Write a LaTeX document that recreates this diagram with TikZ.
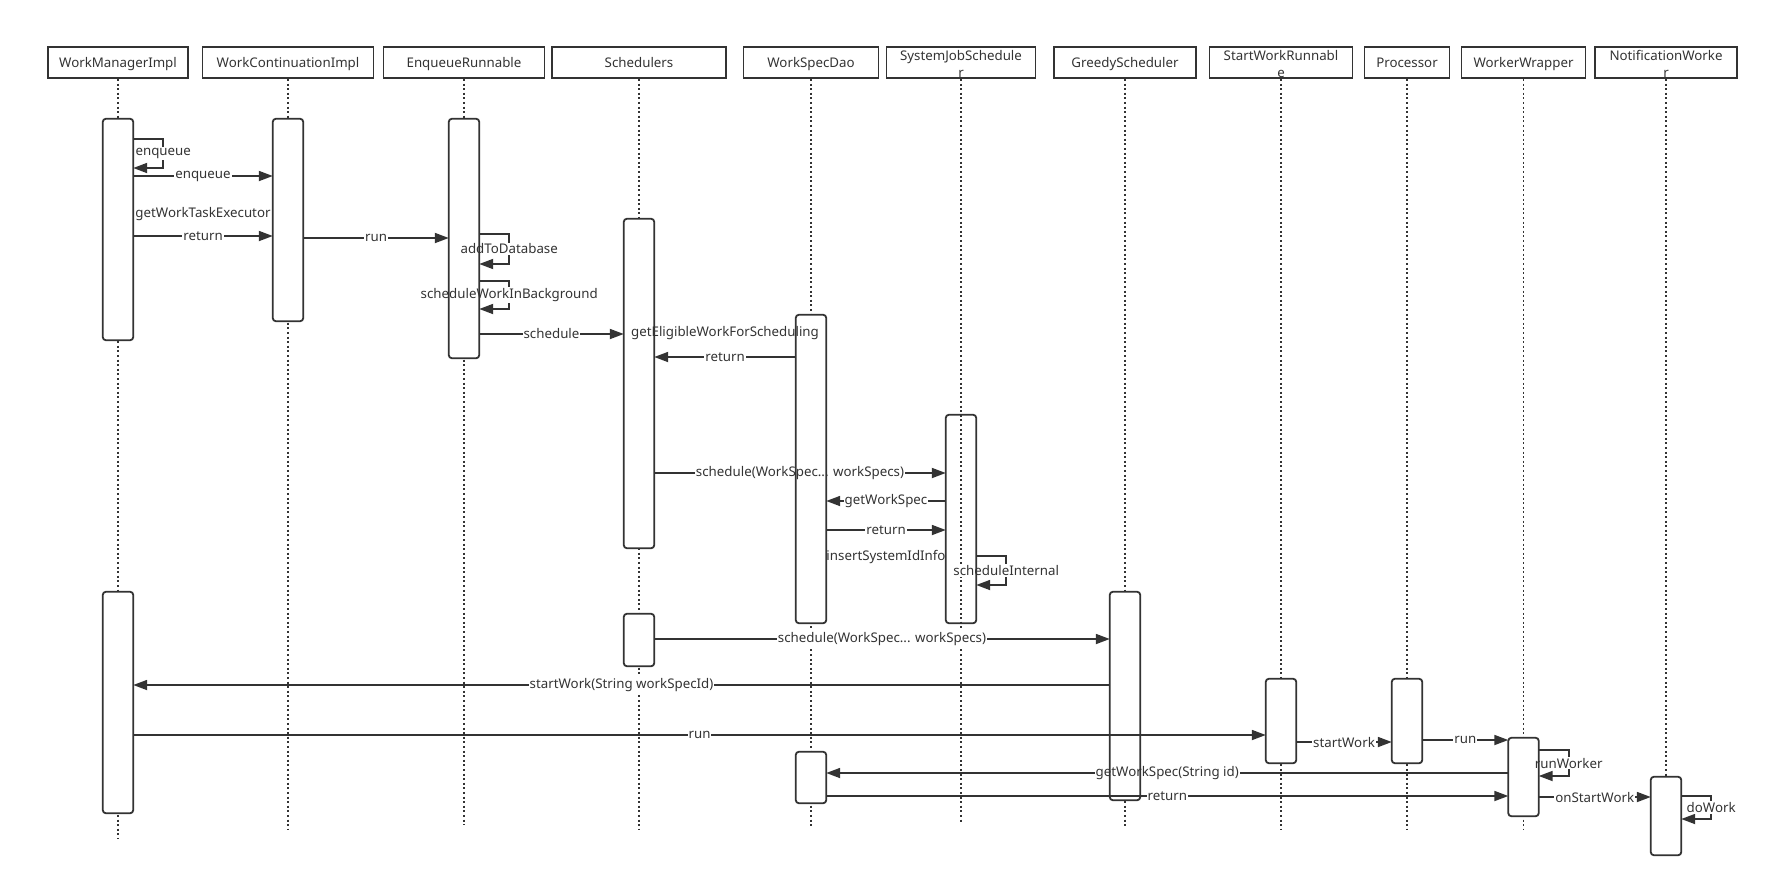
\documentclass[tikz,border=0pt]{standalone}
\usepackage{fontspec}
\setmainfont{Noto Sans}
\usetikzlibrary{arrows.meta}
\definecolor{ink}{HTML}{333333}
\begin{document}
\begin{tikzpicture}[x=1pt,y=-1pt,
  hdr/.style={draw=ink, line width=1.8pt, minimum height=31pt, inner sep=0pt,
    font=\fontsize{13.3}{16.5}\selectfont, text=ink, align=center, text height=13pt, text depth=3pt},
  hdrtwo/.style={draw=ink, line width=1.8pt, minimum height=31pt, inner sep=0pt,
    font=\fontsize{13.3}{16.5}\selectfont, text=ink, align=center, text height=29.5pt},
  act/.style={fill=white, draw=none, minimum width=30pt, inner sep=0pt, rounded corners=3pt},
  actb/.style={draw=ink, line width=1.8pt, rounded corners=3pt},
  life/.style={draw=ink, line width=1.8pt, dash pattern=on 2pt off 2.6pt},
  msg/.style={draw=ink, line width=1.8pt, -{Triangle[length=14pt,width=10pt]}},
  lbl/.style={fill=white, inner sep=1pt, text=ink, font=\fontsize{13.3}{16}\selectfont}
]
\useasboundingbox (0,0) rectangle (1769,887);

% headers
\node[hdr, minimum width=140pt] (hWMI) at (118,62.5) {WorkManagerImpl};
\node[hdr, minimum width=171pt] (hWCI) at (288,62.5) {WorkContinuationImpl};
\node[hdr, minimum width=161pt] (hER) at (464,62.5) {EnqueueRunnable};
\node[hdr, minimum width=174pt] (hSch) at (639,62.5) {Schedulers};
\node[hdr, minimum width=135pt] (hWSD) at (811,62.5) {WorkSpecDao};
\node[hdrtwo, minimum width=149pt] (hSJS) at (961,62.5) {SystemJobSchedule\\r};
\node[hdr, minimum width=142pt] (hGS) at (1125,62.5) {GreedyScheduler};
\node[hdrtwo, minimum width=143pt] (hSWR) at (1281,62.5) {StartWorkRunnabl\\e};
\node[hdr, minimum width=85pt] (hProc) at (1407,62.5) {Processor};
\node[hdr, minimum width=124pt] (hWW) at (1523.5,62.5) {WorkerWrapper};
\node[hdrtwo, minimum width=142pt] (hNW) at (1666,62.5) {NotificationWorke\\r};

% lifeline ends
\coordinate (eWMI) at (118,838);
\coordinate (eWCI) at (288,829);
\coordinate (eER) at (464,825);
\coordinate (eSch) at (639,829);
\coordinate (eWSD) at (811,828);
\coordinate (eSJS) at (961,824);
\coordinate (eGS) at (1125,828);
\coordinate (eSWR) at (1281,829);
\coordinate (eProc) at (1407,829);
\coordinate (eWW) at (1523.5,829);
\coordinate (eNW) at (1666,829);

\foreach \n in {WMI,WCI,ER,Sch,WSD,SJS,GS,SWR,Proc,WW,NW}
  \draw[life] (h\n.south) -- (e\n);

% activation bars (fill)
\node[act, minimum height=221pt] (aWMI1) at (118,229.5) {};
\node[act, minimum height=221pt] (aWMI2) at (118,702.5) {};
\node[act, minimum height=202pt] (aWCI1) at (288,220) {};
\node[act, minimum height=239pt] (aER1) at (464,238.5) {};
\node[act, minimum height=329pt] (aSch1) at (639,383.5) {};
\node[act, minimum height=52pt] (aSch2) at (639,640) {};
\node[act, minimum height=308pt] (aWSD1) at (811,469) {};
\node[act, minimum height=51pt] (aWSD2) at (811,777.5) {};
\node[act, fill=none, minimum height=208pt] (aSJS1) at (961,519) {};
\node[act, minimum height=208pt] (aGS1) at (1125,696) {};
\node[act, minimum height=84pt] (aSWR1) at (1281,721) {};
\node[act, minimum height=84pt] (aProc1) at (1407,721) {};
\node[act, minimum height=78pt] (aWW1) at (1523.5,777) {};
\node[act, minimum height=78pt] (aNW1) at (1666,816) {};

% messages
\draw[msg] (aWMI1.east |- 0,139) -- ++(30,0) -- node[lbl]{enqueue} ++(0,29) -- (aWMI1.east |- 0,168);
\draw[msg] (aWMI1.east |- 0,176) -- node[lbl]{enqueue} (aWCI1.west |- 0,176);
\draw[msg] (aWMI1.east |- 0,214) -- node[lbl]{getWorkTaskExecutor} (aWCI1.west |- 0,214);
\draw[msg] (aWMI1.east |- 0,236) -- node[lbl]{return} (aWCI1.west |- 0,236);
\draw[msg] (aWCI1.east |- 0,238) -- node[lbl]{run} (aER1.west |- 0,238);
\draw[msg] (aER1.east |- 0,234) -- ++(30,0) -- node[lbl]{addToDatabase} ++(0,30) -- (aER1.east |- 0,264);
\draw[msg] (aER1.east |- 0,281) -- ++(30,0) -- node[lbl]{scheduleWorkInBackground} ++(0,28) -- (aER1.east |- 0,309);
\draw[msg] (aER1.east |- 0,334) -- node[lbl]{schedule} (aSch1.west |- 0,334);
\draw[msg] (aSch1.east |- 0,333) -- node[lbl]{getEligibleWorkForScheduling} (aWSD1.west |- 0,333);
\draw[msg] (aWSD1.west |- 0,357) -- node[lbl]{return} (aSch1.east |- 0,357);
\draw[msg] (aSch1.east |- 0,473) -- node[lbl]{schedule(WorkSpec... workSpecs)} (aSJS1.west |- 0,473);
\draw[msg] (aSJS1.west |- 0,501) -- node[lbl]{getWorkSpec} (aWSD1.east |- 0,501);
\draw[msg] (aWSD1.east |- 0,530) -- node[lbl]{return} (aSJS1.west |- 0,530);
\draw[msg] (aSJS1.west |- 0,557) -- node[lbl]{insertSystemIdInfo} (aWSD1.east |- 0,557);
\draw[msg] (aSJS1.east |- 0,556) -- ++(30,0) -- node[lbl]{scheduleInternal} ++(0,29) -- (aSJS1.east |- 0,585);
\draw[msg] (aSch2.east |- 0,639) -- node[lbl]{schedule(WorkSpec... workSpecs)} (aGS1.west |- 0,639);
\draw[msg] (aGS1.west |- 0,685) -- node[lbl]{startWork(String workSpecId)} (aWMI2.east |- 0,685);
\draw[msg] (aWMI2.east |- 0,735) -- node[lbl]{run} (aSWR1.west |- 0,735);
\draw[msg] (aSWR1.east |- 0,742) -- node[lbl]{startWork} (aProc1.west |- 0,742);
\draw[msg] (aProc1.east |- 0,740) -- node[lbl]{run} (aWW1.west |- 0,740);
\draw[msg] (aWW1.east |- 0,750) -- ++(30,0) -- node[lbl]{runWorker} ++(0,26) -- (aWW1.east |- 0,776);
\draw[msg] (aWW1.west |- 0,773) -- node[lbl]{getWorkSpec(String id)} (aWSD2.east |- 0,773);
\draw[msg] (aWSD2.east |- 0,796) -- node[lbl]{return} (aWW1.west |- 0,796);
\draw[msg] (aWW1.east |- 0,797) -- node[lbl]{onStartWork} (aNW1.west |- 0,797);
\draw[msg] (aNW1.east |- 0,796) -- ++(30,0) -- node[lbl]{doWork} ++(0,23) -- (aNW1.east |- 0,819);

% activation borders on top
\foreach \n in {aWMI1,aWMI2,aWCI1,aER1,aSch1,aSch2,aWSD1,aWSD2,aSJS1,aGS1,aSWR1,aProc1,aWW1,aNW1}
  \draw[actb] (\n.north west) rectangle (\n.south east);
\end{tikzpicture}
\end{document}
